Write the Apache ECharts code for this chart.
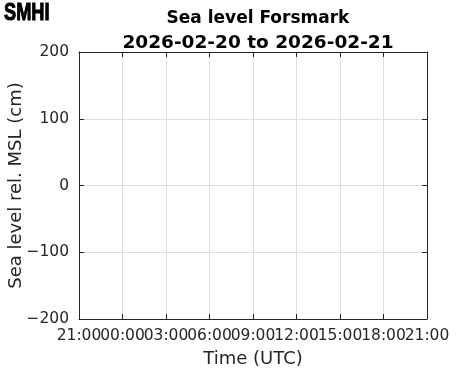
<!DOCTYPE html>
<html>
<head>
<meta charset="utf-8">
<script src="https://cdn.jsdelivr.net/npm/echarts@6/dist/echarts.min.js"></script>
<style>
html,body{margin:0;padding:0;background:#fff;}
#c{width:471px;height:371px;}
</style>
</head>
<body>
<div id="c"></div>
<script>
var titleLines = ['Sea level Forsmark', '2026-02-20 to 2026-02-21'];
var xTickLabels = ['21:00', '00:00', '03:00', '06:00', '09:00', '12:00', '15:00', '18:00', '21:00'];
var yTicks = [-200, -100, 0, 100, 200];
var seaLevelValues = [];

var chart = echarts.init(document.getElementById('c'), null, {renderer: 'canvas'});
var F = 'DejaVu Sans';
var tickFont = {fontFamily: F, fontSize: 15.5, color: '#262626'};
var axisCol = '#262626';

chart.setOption({
  animation: false,
  backgroundColor: '#fff',
  title: {
    text: '{a|' + titleLines[0] + '}\n{b|' + titleLines[1] + '}',
    left: 253, top: 2, textAlign: 'center',
    textStyle: {
      fontFamily: F, fontWeight: 'bold', color: '#000',
      rich: {
        a: {fontFamily: F, fontWeight: 'bold', fontSize: 17, lineHeight: 24, color: '#000'},
        b: {fontFamily: F, fontWeight: 'bold', fontSize: 18.5, lineHeight: 24, color: '#000'}
      }
    }
  },
  graphic: [{
    type: 'text', x: 4, y: 1, scaleX: 0.76,
    style: {text: 'SMHI', fontFamily: 'Liberation Sans', fontWeight: 'bold', fontSize: 24,
      fill: '#000', stroke: '#000', lineWidth: 1, textVerticalAlign: 'top'}
  }],
  grid: {left: 79, right: 44, top: 52, bottom: 52, containLabel: false, outerBoundsMode: 'none'},
  xAxis: [{
    type: 'category', data: xTickLabels, boundaryGap: false,
    name: 'Time (UTC)', nameLocation: 'middle', nameGap: 31, nameMoveOverlap: false,
    nameTextStyle: {fontFamily: F, fontSize: 18, color: axisCol},
    axisLine: {show: true, onZero: false, lineStyle: {color: axisCol, width: 1}},
    axisTick: {show: true, inside: true, length: 5, interval: 0, lineStyle: {color: axisCol}},
    axisLabel: Object.assign({margin: 9, interval: 0, hideOverlap: false}, tickFont),
    splitLine: {show: true, interval: 0, lineStyle: {color: '#dfdfdf', width: 1}}
  }, {
    type: 'category', data: xTickLabels, boundaryGap: false, position: 'top',
    axisLine: {show: true, onZero: false, lineStyle: {color: axisCol, width: 1}},
    axisTick: {show: true, inside: true, length: 5, interval: 0, lineStyle: {color: axisCol}},
    axisLabel: {show: false}, splitLine: {show: false}
  }],
  yAxis: [{
    type: 'value', min: -200, max: 200, interval: 100,
    name: 'Sea level rel. MSL (cm)', nameLocation: 'middle', nameGap: 54, nameRotate: 90,
    nameMoveOverlap: false,
    nameTextStyle: {fontFamily: F, fontSize: 18, color: axisCol},
    axisLine: {show: true, onZero: false, lineStyle: {color: axisCol, width: 1}},
    axisTick: {show: true, inside: true, length: 5, lineStyle: {color: axisCol}},
    axisLabel: Object.assign({margin: 10, showMinLabel: true, showMaxLabel: true,
      formatter: function (v) { return String(v).replace('-', '\u2212'); }}, tickFont),
    splitLine: {show: true, lineStyle: {color: '#dfdfdf', width: 1}}
  }, {
    type: 'value', position: 'right', min: -200, max: 200, interval: 100,
    axisLine: {show: true, onZero: false, lineStyle: {color: axisCol, width: 1}},
    axisTick: {show: true, inside: true, length: 5, lineStyle: {color: axisCol}},
    axisLabel: {show: false}, splitLine: {show: false}
  }],
  series: [{
    type: 'line', xAxisIndex: 0, yAxisIndex: 0, data: seaLevelValues,
    showSymbol: false, lineStyle: {color: '#0072bd', width: 1}
  }]
});
</script>
</body>
</html>
